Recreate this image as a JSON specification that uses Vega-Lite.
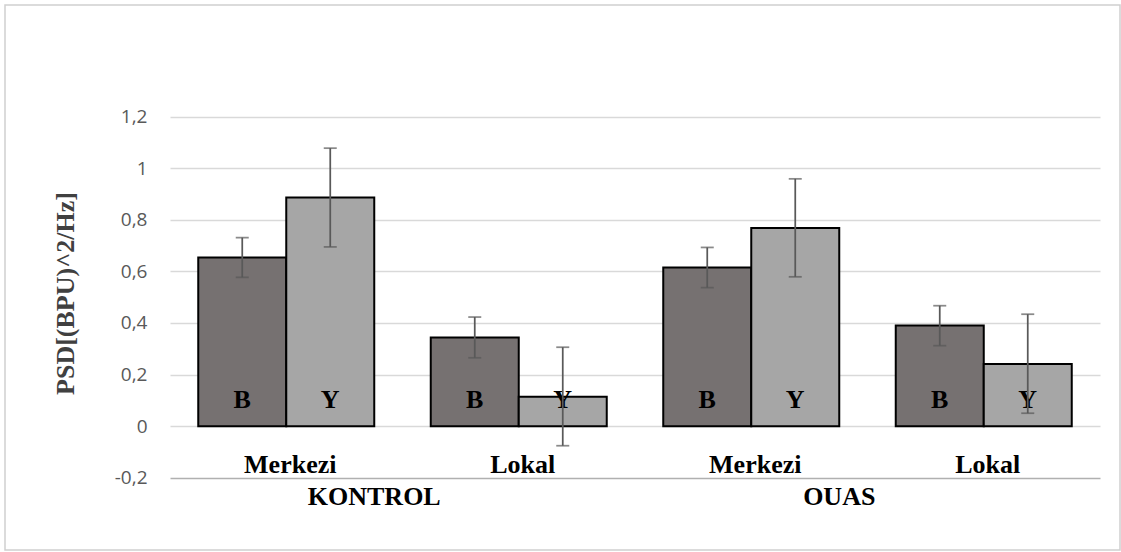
{
  "$schema": "https://vega.github.io/schema/vega-lite/v6.json",
  "width": 1115,
  "height": 545,
  "autosize": {"type": "none"},
  "padding": {"left": 5, "top": 5, "right": 1, "bottom": 2},
  "background": "white",
  "config": {
    "view": {"stroke": "#d0d0d0", "strokeWidth": 1.5},
    "axis": {"gridWidth": 1.5}
  },
  "data": {
    "values": [
      {"group": "KONTROL", "cat": "Merkezi", "xkey": "KONTROL Merkezi", "series": "B", "value": 0.654, "low": 0.577, "high": 0.731},
      {"group": "KONTROL", "cat": "Merkezi", "xkey": "KONTROL Merkezi", "series": "Y", "value": 0.887, "low": 0.695, "high": 1.078},
      {"group": "KONTROL", "cat": "Lokal", "xkey": "KONTROL Lokal", "series": "B", "value": 0.344, "low": 0.265, "high": 0.423},
      {"group": "KONTROL", "cat": "Lokal", "xkey": "KONTROL Lokal", "series": "Y", "value": 0.114, "low": -0.076, "high": 0.306},
      {"group": "OUAS", "cat": "Merkezi", "xkey": "OUAS Merkezi", "series": "B", "value": 0.615, "low": 0.537, "high": 0.693},
      {"group": "OUAS", "cat": "Merkezi", "xkey": "OUAS Merkezi", "series": "Y", "value": 0.768, "low": 0.579, "high": 0.959},
      {"group": "OUAS", "cat": "Lokal", "xkey": "OUAS Lokal", "series": "B", "value": 0.390, "low": 0.312, "high": 0.467},
      {"group": "OUAS", "cat": "Lokal", "xkey": "OUAS Lokal", "series": "Y", "value": 0.241, "low": 0.050, "high": 0.434}
    ]
  },
  "encoding": {
    "x": {
      "field": "xkey", "type": "nominal",
      "sort": ["KONTROL Merkezi", "KONTROL Lokal", "OUAS Merkezi", "OUAS Lokal"],
      "scale": {"domain": ["KONTROL Merkezi", "KONTROL Lokal", "OUAS Merkezi", "OUAS Lokal"], "range": [165, 1095], "paddingInner": 0.243, "paddingOuter": 0.1215},
      "axis": null
    }
  },
  "layer": [
    {
      "mark": {"type": "bar", "stroke": "black", "strokeWidth": 2},
      "encoding": {
        "xOffset": {"field": "series", "type": "nominal", "scale": {"domain": ["B", "Y"], "paddingInner": 0, "paddingOuter": 0}},
        "y": {
          "field": "value", "type": "quantitative",
          "scale": {"domain": [-0.2, 1.2], "range": [472.7, 111.7], "nice": false, "zero": false},
          "axis": {
            "values": [-0.2, 0, 0.2, 0.4, 0.6, 0.8, 1, 1.2],
            "format": ".1~f",
            "labelExpr": "replace(replace(datum.label, '.', ','), '\u2212', '-')",
            "offset": -165,
            "domain": false,
            "ticks": false,
            "grid": true,
            "gridColor": {"condition": {"test": "datum.value < -0.1", "value": "#b0b0b0"}, "value": "#d9d9d9"},
            "labelPadding": 23,
            "labelFont": "Open Sans",
            "labelFontSize": 19,
            "labelColor": "#595959",
            "title": "PSD[(BPU)^2/Hz]",
            "titleFont": "Liberation Serif",
            "titleFontSize": 26,
            "titleFontWeight": "bold",
            "titleColor": "#404040",
            "titleAngle": -90,
            "titleAlign": "center",
            "titleBaseline": "middle",
            "titleX": -105,
            "titleY": 288
          }
        },
        "fill": {"field": "series", "type": "nominal", "scale": {"domain": ["B", "Y"], "range": ["#767171", "#a6a6a6"]}, "legend": null}
      }
    },
    {
      "mark": {"type": "text", "font": "Liberation Serif", "fontWeight": "bold", "fontSize": 26, "color": "black", "baseline": "alphabetic", "dy": -18},
      "encoding": {
        "xOffset": {"field": "series", "type": "nominal"},
        "y": {"datum": 0, "type": "quantitative"},
        "text": {"field": "series"}
      }
    },
    {
      "mark": {"type": "rule", "color": "#595959", "strokeWidth": 1.75},
      "encoding": {
        "xOffset": {"field": "series", "type": "nominal"},
        "y": {"field": "low", "type": "quantitative"},
        "y2": {"field": "high"}
      }
    },
    {
      "mark": {"type": "tick", "color": "#595959", "thickness": 1.75, "size": 13},
      "encoding": {
        "xOffset": {"field": "series", "type": "nominal"},
        "y": {"field": "low", "type": "quantitative"}
      }
    },
    {
      "mark": {"type": "tick", "color": "#595959", "thickness": 1.75, "size": 13},
      "encoding": {
        "xOffset": {"field": "series", "type": "nominal"},
        "y": {"field": "high", "type": "quantitative"}
      }
    },
    {
      "transform": [{"filter": "datum.series == 'B'"}],
      "mark": {"type": "text", "align": "center", "font": "Liberation Serif", "fontWeight": "bold", "fontSize": 26, "color": "black", "baseline": "alphabetic", "dy": -5, "dx": 4},
      "encoding": {
        "y": {"datum": -0.2, "type": "quantitative"},
        "text": {"field": "cat"}
      }
    },
    {
      "transform": [{"filter": "datum.series == 'B' && datum.cat == 'Merkezi'"}],
      "mark": {"type": "text", "align": "center", "font": "Liberation Serif", "fontWeight": "bold", "fontSize": 26, "color": "black", "baseline": "alphabetic", "dy": 27, "dx": 88},
      "encoding": {
        "y": {"datum": -0.2, "type": "quantitative"},
        "text": {"field": "group"}
      }
    }
  ]
}
